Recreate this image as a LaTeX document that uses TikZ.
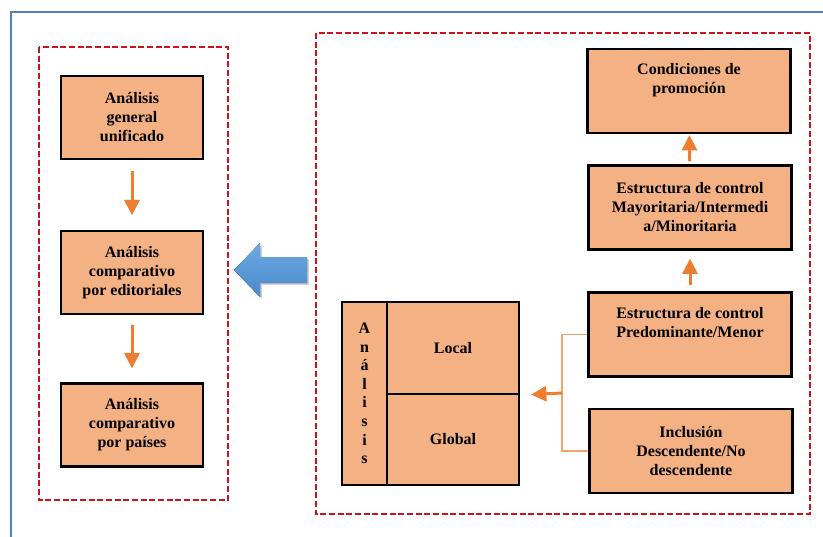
\documentclass[tikz,border=0pt]{standalone}
\usepackage{fontspec}
\setmainfont{Liberation Serif}
\usepackage{tikz}
\usetikzlibrary{arrows.meta,positioning,calc,shadows}
\definecolor{frameblue}{HTML}{4F81BD}
\definecolor{dashred}{HTML}{D0101A}
\definecolor{boxorange}{HTML}{F4B183}
\definecolor{arroworange}{HTML}{ED7D31}
\definecolor{bracketorange}{HTML}{F4A46A}
\definecolor{bigblue}{HTML}{5B9BD5}
\definecolor{bigbluelight}{HTML}{6DAAE2}
\definecolor{bigbluedark}{HTML}{4A88CC}

\tikzset{
  caja/.style={draw=black, line width=1.6pt, fill=boxorange, align=center,
    minimum width=142*0.75pt, minimum height=83*0.75pt, inner sep=2pt,
    font=\fontsize{12}{14.25}\selectfont\bfseries},
  cajader/.style={caja, minimum width=203*0.75pt, minimum height=84*0.75pt},
  texto/.style={align=center, inner sep=0pt, font=\fontsize{12}{14.25}\selectfont\bfseries},
  flecha/.style={arroworange, line width=2.25pt, -{Triangle[length=11.5pt,width=11.25pt]}},
  corchete/.style={bracketorange, line width=1.1pt},
  marcorojo/.style={dashred, line width=1.6pt, dash pattern=on 4.5pt off 2pt}
}

\begin{document}
\begin{tikzpicture}[x=0.75pt,y=-0.75pt]
    \useasboundingbox (0,0) rectangle (823,536);
    % Page frame
    \draw[frameblue, line width=1.6pt] (11,560) |- (850,12);
    % Dashed groups
    \draw[marcorojo] (39,47) rectangle (228,500);
    \draw[marcorojo] (316,33) rectangle (810,514);

    % Left column
    \node[caja] (general) at (132,117.5) {Análisis\\general\\unificado};
    \node[caja] (editoriales) at (132,272.5) {Análisis\\comparativo\\por editoriales};
    \node[caja] (paises) at (132,425) {Análisis\\comparativo\\por países};
    \draw[flecha, shorten <=8.25pt, shorten >=11pt] (general) -- (editoriales);
    \draw[flecha, shorten <=7.5pt, shorten >=10.5pt] (editoriales) -- (paises);

    % Big arrow between groups
    \fill[top color=bigbluelight, bottom color=bigbluedark,
          drop shadow={shadow xshift=1.5pt, shadow yshift=-1.5pt, opacity=.35}]
      (234,270) -- (260,243) -- (260,257) -- (307,257) -- (307,283)
      -- (260,283) -- (260,297) -- cycle;

    % Right column
    \node[cajader] (promocion) at (689,91) {};
    \node[texto] (promociontxt) at ([yshift=-24pt]promocion.north) {Condiciones de\\promoción};
    \node[cajader] (mayoritaria) at (690,207.5) {Estructura de control\\Mayoritaria/Intermedi\\a/Minoritaria};
    \node[cajader] (predominante) at (690,334.5) {};
    \node[texto] (predominantetxt) at ([yshift=-23.5pt]predominante.north) {Estructura de control\\Predominante/Menor};
    \node[cajader] (inclusion) at (691,451) {Inclusión\\Descendente/No\\descendente};
    \draw[flecha, shorten <=2.25pt, shorten >=0.75pt] (mayoritaria) -- (promocion);
    \draw[flecha, shorten <=4.5pt, shorten >=6pt] (predominante) -- (mayoritaria);

    % Analysis table
    \node[caja, minimum width=45*0.75pt, minimum height=183*0.75pt,
          font=\fontsize{12}{13.9}\selectfont\bfseries] (analisis) at (364.5,393.5)
      {A\\n\\á\\l\\i\\s\\i\\s};
    \node[caja, minimum width=132*0.75pt, minimum height=92*0.75pt] (local) at (453,348) {Local};
    \node[caja, minimum width=132*0.75pt, minimum height=91*0.75pt] (global) at (453,439.5) {Global};

    % Bracket into the table
    \coordinate (union) at (562,393);
    \draw[corchete] (predominante.west) -| (union) |- (inclusion.west);
    \draw[flecha, shorten >=8.25pt] (union) -- (local.south east);
\end{tikzpicture}
\end{document}
